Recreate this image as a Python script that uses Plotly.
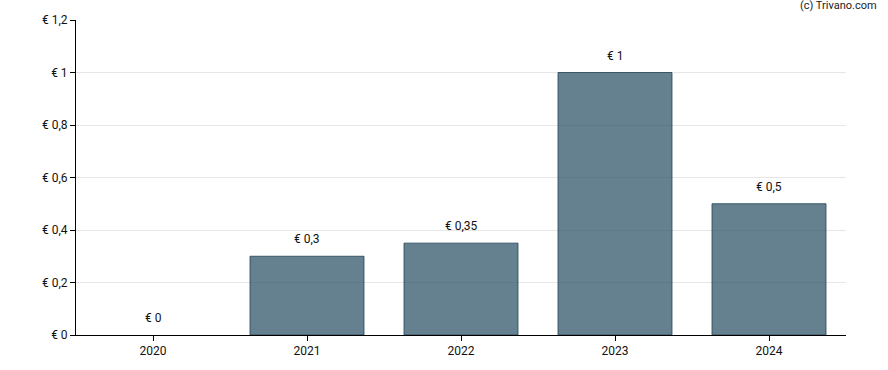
import plotly.graph_objects as go

years = ["2020", "2021", "2022", "2023", "2024"]
values = [0, 0.3, 0.35, 1, 0.5]
labels = ["€ 0", "€ 0,3", "€ 0,35", "€ 1", "€ 0,5"]
y_ticks = [0, 0.2, 0.4, 0.6, 0.8, 1.0, 1.2]
y_tick_labels = ["€ 0", "€ 0,2", "€ 0,4", "€ 0,6", "€ 0,8", "€ 1", "€ 1,2"]

fig = go.Figure()
fig.add_trace(go.Bar(
    x=years, y=values, width=0.74,
    marker=dict(color="rgba(36,75,95,0.70)",
                line=dict(color="rgba(40,70,92,0.85)", width=[0 if v == 0 else 1 for v in values])),
    hoverinfo="skip",
))
for i, (v, t) in enumerate(zip(values, labels)):
    fig.add_annotation(x=i, y=v, text=t, showarrow=False, yanchor="bottom", yshift=8,
                       font=dict(size=12, color="#111111"))
fig.add_annotation(xref="paper", yref="paper", x=1.0, y=1.0, xanchor="right", yanchor="bottom",
                   xshift=33, yshift=6, text="(c) Trivano.com", showarrow=False,
                   font=dict(size=11, color="#222222"))

fig.update_layout(
    width=888, height=370,
    margin=dict(l=76, r=42, t=20, b=35),
    plot_bgcolor="white", paper_bgcolor="white",
    font=dict(family="Roboto, Arial, sans-serif", size=12, color="#111111"),
    showlegend=False, bargap=0.26,
    xaxis=dict(type="category", range=[-0.5, 4.5], showline=True, linecolor="black", linewidth=1,
               ticks="outside", ticklen=5, tickcolor="black", showgrid=False),
    yaxis=dict(range=[0, 1.2], tickvals=y_ticks, ticktext=y_tick_labels,
               showline=True, linecolor="black", linewidth=1, ticks="outside", ticklen=5,
               tickcolor="black", gridcolor="#e6e6e6", gridwidth=1, zeroline=False,
               layer="above traces"),
)
fig.write_html("out.html", config={"displayModeBar": False},
               post_script="document.body.style.margin='0px';")
